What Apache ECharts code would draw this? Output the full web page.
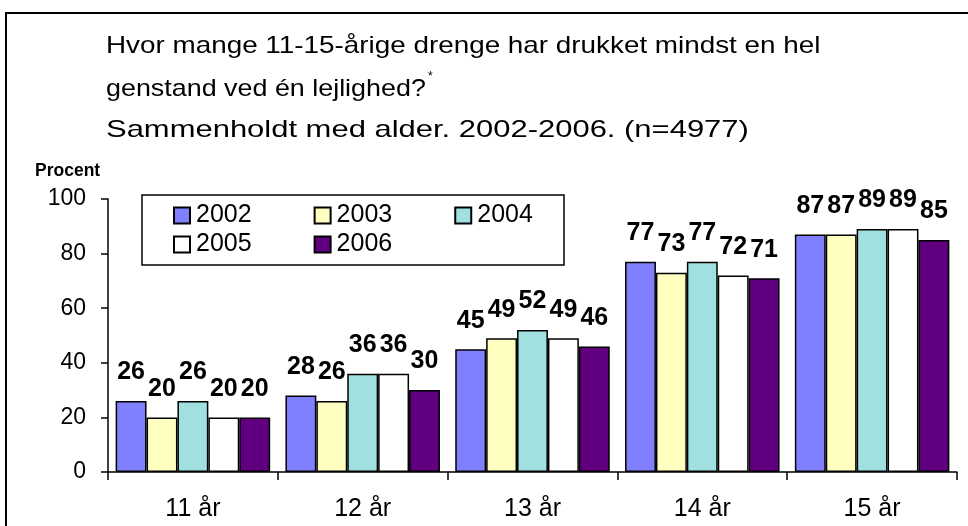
<!DOCTYPE html>
<html>
<head>
<meta charset="utf-8">
<script src="https://cdn.jsdelivr.net/npm/echarts@6/dist/echarts.min.js"></script>
<style>
html,body{margin:0;padding:0;background:#fff;}
#chart{width:968px;height:526px;}
</style>
</head>
<body>
<div id="chart"></div>
<script>
var categories = ['11 år', '12 år', '13 år', '14 år', '15 år'];
var seriesNames = ['2002', '2003', '2004', '2005', '2006'];
var v2002 = [26, 28, 45, 77, 87];
var v2003 = [20, 26, 49, 73, 87];
var v2004 = [26, 36, 52, 77, 89];
var v2005 = [20, 36, 49, 72, 89];
var v2006 = [20, 30, 46, 71, 85];
var titleLines = [
  'Hvor mange 11-15-årige drenge har drukket mindst en hel',
  'genstand ved én lejlighed?',
  'Sammenholdt med alder. 2002-2006. (n=4977)'
];
var yAxisName = 'Procent';

var colors = ['#8080FF', '#FFFFC0', '#A0E0E0', '#FFFFFF', '#600080'];
var values = [v2002, v2003, v2004, v2005, v2006];
var FONT = 'Arial, "Liberation Sans", sans-serif';

var chart = echarts.init(document.getElementById('chart'));

var series = seriesNames.map(function (n, i) {
  return {
    name: n,
    type: 'bar',
    data: values[i],
    barGap: '0%',
    barCategoryGap: '9%',
    itemStyle: { color: colors[i], borderColor: '#000', borderWidth: 1.5 },
    label: {
      show: true, position: 'top', distance: 16,
      color: '#000', fontFamily: FONT, fontWeight: 'bold', fontSize: 25
    }
  };
});

var legendCommon = {
  itemWidth: 16, itemHeight: 16, itemGap: 62,
  icon: 'rect',
  textStyle: { color: '#000', fontFamily: FONT, fontSize: 25, padding: [0, 0, 0, 1] },
  padding: 0,
  orient: 'horizontal',
  selectedMode: false
};

function titleText(txt, x, y, size, weight, sx) {
  return {
    type: 'text', x: x, y: y, scaleX: sx, silent: true, z: 10,
    style: {
      text: txt, x: 0, y: 0, fill: '#000',
      font: weight + ' ' + size + 'px ' + FONT,
      align: 'left', verticalAlign: 'middle'
    }
  };
}

var option = {
  animation: false,
  backgroundColor: '#fff',
  legend: [
    Object.assign({}, legendCommon, { data: seriesNames.slice(0, 3), left: 173, top: 203 }),
    Object.assign({}, legendCommon, { data: seriesNames.slice(3), left: 173, top: 232 })
  ],
  grid: { left: 108, right: 11, top: 199, bottom: 54, containLabel: false },
  xAxis: {
    type: 'category',
    data: categories,
    axisLine: { lineStyle: { color: '#000', width: 1.5 } },
    axisTick: { show: true, length: 8, alignWithLabel: false, lineStyle: { color: '#000', width: 1.5 } },
    axisLabel: { color: '#000', fontFamily: FONT, fontSize: 25, margin: 25 }
  },
  yAxis: {
    type: 'value', min: 0, max: 100, interval: 20,
    axisLine: { show: true, lineStyle: { color: '#000', width: 1.5 } },
    axisTick: { show: true, length: 7, lineStyle: { color: '#000', width: 1.5 } },
    axisLabel: { color: '#000', fontFamily: FONT, fontSize: 23, margin: 22 },
    splitLine: { show: false }
  },
  graphic: [
    { type: 'rect', shape: { x: 6, y: 13, width: 1000, height: 600 },
      style: { fill: 'none', stroke: '#000', lineWidth: 2 }, silent: true, z: -1 },
    { type: 'rect', shape: { x: 142, y: 195, width: 422, height: 70 },
      style: { fill: '#fff', stroke: '#000', lineWidth: 1.5 }, silent: true, z: 0 },
    titleText(titleLines[0], 106, 46, 24, 'normal', 1.16),
    titleText(titleLines[1], 106, 89, 24, 'normal', 1.12),
    titleText('*', 428, 77, 12, 'normal', 1.0),
    titleText(titleLines[2], 106, 130, 24, 'normal', 1.29),
    titleText(yAxisName, 35, 171, 17.5, 'bold', 1.0)
  ],
  series: series
};
chart.setOption(option);
</script>
</body>
</html>
